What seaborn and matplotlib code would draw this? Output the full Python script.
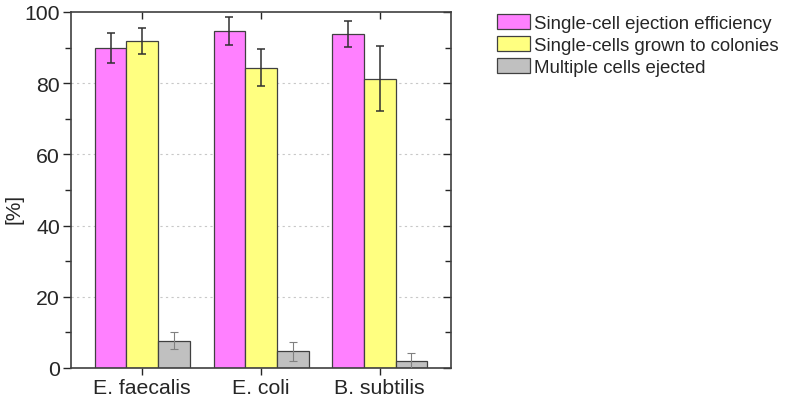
import pandas as pd
import numpy as np
import seaborn as sns
import matplotlib.pyplot as plt
from matplotlib.ticker import MultipleLocator

# data
species = ["E. faecalis", "E. coli", "B. subtilis"]
series = ["Single-cell ejection efficiency", "Single-cells grown to colonies", "Multiple cells ejected"]
ejection = [89.9, 94.6, 93.9]
ejection_err = [4.2, 3.9, 3.6]
colonies = [91.9, 84.4, 81.3]
colonies_err = [3.6, 5.1, 9.2]
multiple = [7.7, 4.7, 1.9]
multiple_err = [2.3, 2.7, 2.4]

colors = ["#FF80FF", "#FFFF80", "#C0C0C0"]

df = pd.DataFrame({
    "species": species * 3,
    "series": np.repeat(series, 3),
    "value": ejection + colonies + multiple,
})
errs = [ejection_err, colonies_err, multiple_err]

sns.set_style("white")
plt.rcParams['font.family'] = ['Liberation Sans', 'DejaVu Sans']

fig = plt.figure(figsize=(7.87, 4.02), dpi=100)
ax = fig.add_axes([71 / 787, 1 - 369 / 402, 380 / 787, 356 / 402])

sns.barplot(data=df, x="species", y="value", hue="series", order=species,
            hue_order=series, palette=colors, width=0.8, saturation=1,
            edgecolor="#404040", linewidth=0.9, ax=ax, legend=True)

# error bars
bar_conts = list(ax.containers)
for i, cont in enumerate(bar_conts):
    xs = [p.get_x() + p.get_width() / 2 for p in cont.patches]
    ys = [p.get_height() for p in cont.patches]
    ecol = "#808080" if i == 2 else "#303030"
    lw = 0.8 if i == 2 else 1.1
    ax.errorbar(xs, ys, yerr=errs[i], fmt="none", ecolor=ecol,
                elinewidth=lw, capsize=3, capthick=lw, zorder=5)

ax.set_xlim(-0.6, 2.6)
ax.set_ylim(0, 100)
ax.yaxis.set_major_locator(MultipleLocator(20))
ax.yaxis.set_minor_locator(MultipleLocator(10))
for y in [20, 40, 60, 80]:
    ax.axhline(y, color="#c8c8c8", linestyle=(0, (2, 3)), linewidth=0.8, zorder=0)

ax.set_xlabel("")
ax.set_ylabel("[%]", fontsize=15)
ax.yaxis.set_label_coords(-0.125, 0.45)
ax.tick_params(axis="both", labelsize=15.3)
ax.tick_params(axis="y", which="major", direction="out", length=5.5, width=1,
               right=True, left=True, pad=2.5)
ax.tick_params(axis="y", which="minor", direction="out", length=4.3, width=1,
               right=True, left=True)
ax.tick_params(axis="x", which="major", direction="out", length=5, width=1,
               bottom=True, top=True, pad=2.5)
# right and top ticks point inward
for t in ax.yaxis.get_major_ticks() + ax.yaxis.get_minor_ticks():
    t.tick2line.set_marker(0)  # TICKLEFT -> inward on right spine
for t in ax.xaxis.get_major_ticks():
    t.tick1line.set_marker(3)  # TICKDOWN on bottom
    t.tick2line.set_marker(3)  # TICKDOWN on top -> inward

for s in ax.spines.values():
    s.set_color("#404040")
    s.set_linewidth(1.2)

ax.legend(loc="upper left", bbox_to_anchor=(497 / 787, 1 - 15 / 402),
          bbox_transform=fig.transFigure, frameon=False,
          fontsize=13.4, handlelength=1.78, handleheight=0.9,
          handletextpad=0.2, labelspacing=0.2, borderpad=0, borderaxespad=0)

fig.savefig("out.png", dpi=100)
